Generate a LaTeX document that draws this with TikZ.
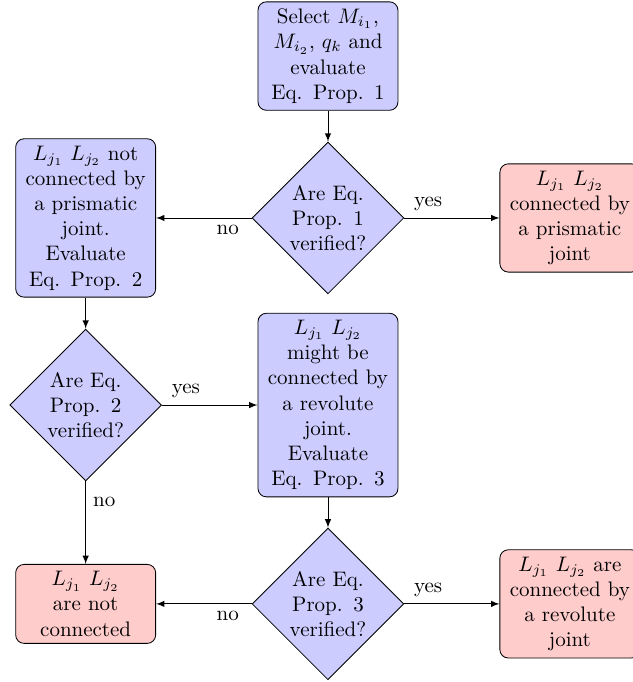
\documentclass[tikz,border=0pt]{standalone}
\usetikzlibrary{shapes.geometric,arrows}
\begin{document}
\begin{tikzpicture}[
  blockbox/.style={rectangle, draw, fill=blue!20, text width=6em, align=center, rounded corners},
  endbox/.style={blockbox, fill=red!20},
  decision/.style={diamond, draw, fill=blue!20, text width=4.1em, align=center, inner sep=0pt},
  conn/.style={draw, -latex},
  lbl/.style={auto, pos=0.25}
]
\useasboundingbox (0,0) rectangle (301pt,-324.8pt);
\node[blockbox] (sel) at (156.2pt,-26.7pt) {Select $M_{i_1}$,\\ $M_{i_2}$, $q_k$ and\\ evaluate\\ Eq. Prop. 1};
\node[decision] (d1) at (156.2pt,-103.8pt) {Are Eq.\\ Prop. 1\\ verified?};
\node[blockbox] (l1) at (40.8pt,-103.8pt) {$L_{j_1}$ $L_{j_2}$ not\\ connected by\\ a prismatic\\ joint.\\ Evaluate\\ Eq. Prop. 2};
\node[endbox] (r1) at (271.4pt,-103.8pt) {$L_{j_1}$ $L_{j_2}$\\ connected by\\ a prismatic\\ joint};
\node[decision] (d2) at (40.8pt,-192.9pt) {Are Eq.\\ Prop. 2\\ verified?};
\node[blockbox] (m) at (156.2pt,-192.9pt) {$L_{j_1}$ $L_{j_2}$\\ might be\\ connected by\\ a revolute\\ joint.\\ Evaluate\\ Eq. Prop. 3};
\node[decision] (d3) at (156.2pt,-287.6pt) {Are Eq.\\ Prop. 3\\ verified?};
\node[endbox] (l3) at (40.8pt,-287.6pt) {$L_{j_1}$ $L_{j_2}$\\ are not\\ connected};
\node[endbox] (r3) at (271.4pt,-287.6pt) {$L_{j_1}$ $L_{j_2}$ are\\ connected by\\ a revolute\\ joint};
\path[conn] (sel) -- (d1);
\path[conn] (d1) -- node[lbl] {yes} (r1);
\path[conn] (d1) -- node[lbl] {no} (l1);
\path[conn] (l1) -- (d2);
\path[conn] (d2) -- node[lbl] {yes} (m);
\path[conn] (d2) -- node[lbl] {no} (l3);
\path[conn] (m) -- (d3);
\path[conn] (d3) -- node[lbl] {yes} (r3);
\path[conn] (d3) -- node[lbl] {no} (l3);
\end{tikzpicture}
\end{document}
